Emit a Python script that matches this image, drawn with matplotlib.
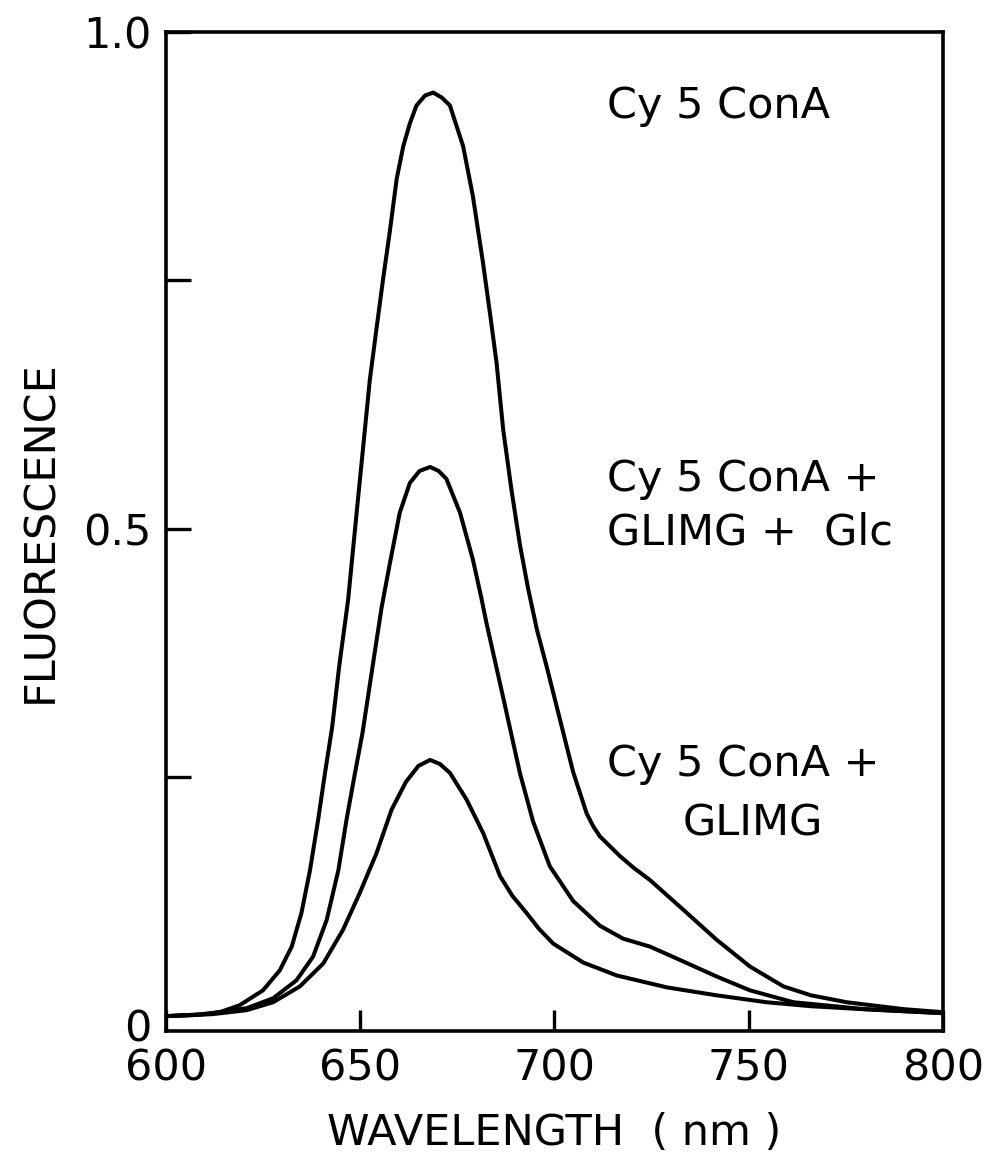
import matplotlib
matplotlib.use('Agg')
import matplotlib.pyplot as plt

# wavelengths (nm) and fluorescence
wl_cona = [600, 607, 613.9, 619.0, 625.0, 629.3, 632.4, 634.9, 637.1, 639.2,
           641.0, 642.8, 644.6, 646.9, 649.1, 650.8, 652.5, 654.2, 655.9, 657.7,
           659.4, 661.1, 662.8, 664.5, 666.7, 668.8, 671.0, 673.1, 676.5, 679.0,
           681.6, 683.4, 685.1, 686.8, 688.9, 691.1, 693.2, 695.5, 698.0, 702.3,
           704.8, 708.3, 710.0, 711.7, 716.9, 720.5, 724.6, 733.2, 741.7, 750.3,
           758.9, 766, 775.2, 790, 800]
fl_cona = [0.009, 0.010, 0.013, 0.020, 0.035, 0.055, 0.079, 0.113, 0.156, 0.207,
           0.255, 0.300, 0.361, 0.428, 0.516, 0.583, 0.650, 0.701, 0.751, 0.801,
           0.852, 0.885, 0.908, 0.926, 0.936, 0.939, 0.934, 0.926, 0.885, 0.835,
           0.768, 0.717, 0.667, 0.600, 0.540, 0.484, 0.440, 0.398, 0.361, 0.294,
           0.255, 0.213, 0.200, 0.190, 0.170, 0.158, 0.146, 0.116, 0.086, 0.059,
           0.039, 0.030, 0.023, 0.016, 0.013]

wl_glc = [600, 610, 620.8, 627.6, 633.6, 637.9, 641.4, 644.4, 646.5, 648.5,
          650.6, 653.2, 655.5, 657.7, 660.2, 662.8, 665.3, 668.0, 670.2, 672.2,
          675.7, 679.0, 681.2, 682.5, 686.8, 691.1, 694.5, 698.8, 704.8, 711.7,
          717.7, 724.6, 733.2, 741.7, 750.3, 761.5, 780, 800]
fl_glc = [0.009, 0.011, 0.017, 0.027, 0.045, 0.069, 0.106, 0.156, 0.207, 0.250,
          0.294, 0.361, 0.420, 0.466, 0.516, 0.546, 0.558, 0.562, 0.558, 0.550,
          0.516, 0.469, 0.430, 0.405, 0.330, 0.254, 0.205, 0.160, 0.125, 0.100,
          0.087, 0.079, 0.064, 0.049, 0.035, 0.023, 0.016, 0.012]

wl_glimg = [600, 612, 620.8, 627.6, 634.5, 640.5, 645.6, 649.9, 654.2, 658.1,
            661.8, 665.0, 668.0, 670.5, 673.1, 677.4, 681.7, 686.0, 689.2, 692.8,
            696.0, 699.7, 707.4, 716.0, 728.9, 741.7, 754.6, 766, 779.5, 800]
fl_glimg = [0.009, 0.011, 0.015, 0.023, 0.039, 0.062, 0.096, 0.133, 0.173, 0.217,
            0.245, 0.261, 0.267, 0.263, 0.254, 0.227, 0.193, 0.150, 0.130, 0.113,
            0.097, 0.082, 0.063, 0.050, 0.038, 0.030, 0.023, 0.019, 0.016, 0.012]

x_ticks = [600, 650, 700, 750, 800]
y_ticks = [0, 0.25, 0.5, 0.75, 1.0]
y_tick_labels = ['0', '', '0.5', '', '1.0']

plt.rcParams['font.family'] = ['DejaVu Sans']
fs = 31

fig = plt.figure(figsize=(9.99, 11.59), dpi=100)
ax = fig.add_axes([0.166, 0.1104, 0.778, 0.862])

for wl, fl in [(wl_cona, fl_cona), (wl_glc, fl_glc), (wl_glimg, fl_glimg)]:
    ax.plot(wl, fl, color='black', lw=2.9, solid_joinstyle='round')

ax.set_xlim(600, 800)
ax.set_ylim(-0.006, 1.0)
ax.set_xticks(x_ticks)
ax.set_yticks(y_ticks)
ax.set_yticklabels(y_tick_labels)
ax.tick_params(direction='in', length=15, width=2.4, labelsize=fs, pad=12)
ax.tick_params(axis='y', length=18, pad=10)
# no tick mark at zero (it sits on the bottom spine)
ax.yaxis.get_major_ticks()[0].tick1line.set_visible(False)
for s in ax.spines.values():
    s.set_linewidth(2.6)

ax.set_xlabel('WAVELENGTH  ( nm )', fontsize=fs, labelpad=16)
ax.set_ylabel('FLUORESCENCE', fontsize=fs, labelpad=16)

ax.text(713.5, 0.925, 'Cy 5 ConA', fontsize=fs, va='center', ha='left')
ax.text(713.5, 0.55, 'Cy 5 ConA +', fontsize=fs, va='center', ha='left')
ax.text(713.5, 0.496, 'GLIMG +  Glc', fontsize=fs, va='center', ha='left')
ax.text(713.5, 0.263, 'Cy 5 ConA +', fontsize=fs, va='center', ha='left')
ax.text(733, 0.203, 'GLIMG', fontsize=fs, va='center', ha='left')

fig.savefig('out.png', dpi=100)
